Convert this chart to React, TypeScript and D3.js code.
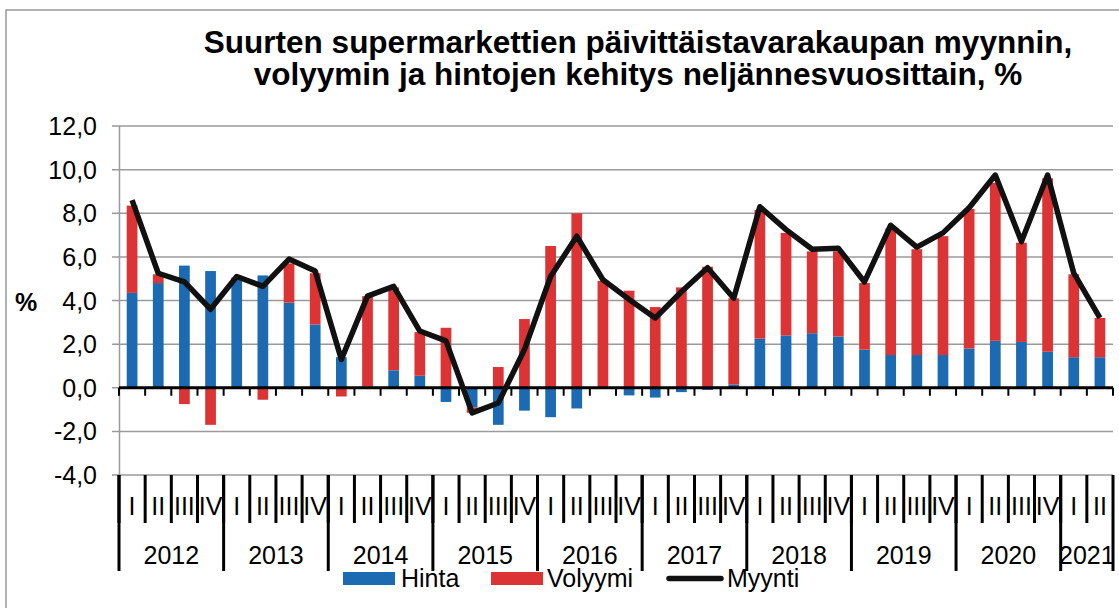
import React from 'react';
import * as d3 from 'd3';

// quarterly change, %
const years = ['2012', '2013', '2014', '2015', '2016', '2017', '2018', '2019', '2020', '2021'];
const quarterLabels = ['I', 'II', 'III', 'IV'];
const hinta = [
  4.35, 4.8, 5.6, 5.35, 4.95, 5.15, 3.9, 2.9, 1.4, 0.05, 0.8, 0.55, -0.65, -0.9, -1.7, -1.05, -1.35, -0.95, 0.0,
  -0.35, -0.45, -0.2, -0.1, 0.15, 2.25, 2.4, 2.5, 2.35, 1.75, 1.5, 1.5, 1.5, 1.8, 2.15, 2.1, 1.65, 1.4, 1.4,
];
const volyymi = [
  4.0, 0.4, -0.75, -1.7, 0.1, -0.55, 1.8, 2.35, -0.4, 4.15, 3.8, 2.0, 2.75, -0.25, 0.95, 3.15, 6.5, 8.0, 4.9,
  4.45, 3.7, 4.6, 5.55, 3.95, 5.9, 4.7, 3.75, 3.9, 3.05, 5.8, 4.85, 5.45, 6.4, 7.25, 4.55, 7.95, 3.8, 1.8,
];
const myynti = [
  8.6, 5.25, 4.85, 3.6, 5.1, 4.65, 5.9, 5.35, 1.3, 4.2, 4.65, 2.6, 2.15, -1.15, -0.7, 1.75, 5.1, 6.95, 4.95,
  4.05, 3.2, 4.4, 5.5, 4.1, 8.3, 7.25, 6.35, 6.4, 4.85, 7.45, 6.45, 7.1, 8.25, 9.75, 6.7, 9.75, 5.25, 3.2,
];
const yTicks = [-4, -2, 0, 2, 4, 6, 8, 10, 12];

const W = 1119;
const H = 608;
const FONT = '"Liberation Sans", Arial, sans-serif';
const BLUE = '#1b6ab2';
const RED = '#dc3435';

const App = () => {
  const categories = years
    .flatMap((y) => quarterLabels.map((q) => `${y} ${q}`))
    .slice(0, hinta.length);

  const pad = 0.59;
  const x = d3.scaleBand().domain(categories).range([119, 1113]).paddingInner(pad).paddingOuter(pad / 2);
  const y = d3.scaleLinear().domain([-4, 12]).range([475, 126]);
  const edge = (c) => x(c) - (x.step() - x.bandwidth()) / 2;
  const xEnd = edge(categories[categories.length - 1]) + x.step();

  const rows = categories.map((c, i) => ({ cat: c, hinta: hinta[i], volyymi: volyymi[i] }));
  const series = d3.stack().keys(['hinta', 'volyymi']).offset(d3.stackOffsetDiverging)(rows);
  const colors = { hinta: BLUE, volyymi: RED };

  const line = d3
    .line()
    .x((d, i) => x(categories[i]) + x.bandwidth() / 2)
    .y((d) => y(d));

  const fmt = (v) => v.toFixed(1).replace('.', ',');

  // year spans
  const yearSpans = years.map((yr) => {
    const cats = categories.filter((c) => c.startsWith(yr));
    const x0 = edge(cats[0]);
    return { yr, x0, x1: x0 + cats.length * x.step() };
  });

  return (
    <svg width={W} height={H} style={{ position: 'absolute', left: 0, top: 0 }} fontFamily={FONT}>
      <rect x={0} y={0} width={W} height={H} fill="#fff" />
      <rect x={6} y={10} width={W + 20} height={H + 20} fill="none" stroke="#999" strokeWidth={1.5} />

      <text x={638} y={53} textAnchor="middle" fontSize={31.5} fontWeight="bold">
        Suurten supermarkettien päivittäistavarakaupan myynnin,
      </text>
      <text x={638} y={85} textAnchor="middle" fontSize={31.5} fontWeight="bold">
        volyymin ja hintojen kehitys neljännesvuosittain, %
      </text>

      {/* gridlines + y axis */}
      {yTicks.map((t) => (
        <g key={t}>
          <line x1={112} x2={xEnd} y1={y(t)} y2={y(t)} stroke="#9a9a9a" strokeWidth={1.5} />
          <text x={97} y={y(t) + 9} textAnchor="end" fontSize={25}>
            {fmt(t)}
          </text>
        </g>
      ))}
      <line x1={119.5} x2={119.5} y1={y(12)} y2={y(-4)} stroke="#9a9a9a" strokeWidth={1.5} />
      <text x={15} y={311} fontSize={25} fontWeight="bold">
        %
      </text>

      {/* bars */}
      {series.map((s) =>
        s.map((d, i) => (
          <rect
            key={s.key + i}
            x={x(categories[i])}
            width={x.bandwidth()}
            y={y(Math.max(d[0], d[1]))}
            height={Math.abs(y(d[0]) - y(d[1]))}
            fill={colors[s.key]}
          />
        ))
      )}

      {/* zero axis with ticks */}
      <line x1={119} x2={xEnd} y1={y(0)} y2={y(0)} stroke="#000" strokeWidth={3} />
      {categories.map((c) => (
        <line key={c} x1={edge(c)} x2={edge(c)} y1={y(0)} y2={y(0) + 8} stroke="#000" strokeWidth={2} />
      ))}
      <line x1={xEnd} x2={xEnd} y1={y(0)} y2={y(0) + 8} stroke="#000" strokeWidth={2} />

      {/* Myynti line */}
      <path d={line(myynti)} fill="none" stroke="#111" strokeWidth={5.5} strokeLinejoin="round" />

      {/* category axis: quarters */}
      {categories.map((c, i) => (
        <g key={'q' + c}>
          <line x1={edge(c)} x2={edge(c)} y1={475} y2={523} stroke="#000" strokeWidth={3} />
          <text x={x(c) + x.bandwidth() / 2} y={515} textAnchor="middle" fontSize={25}>
            {quarterLabels[i % 4]}
          </text>
        </g>
      ))}
      {yearSpans.map((s) => (
        <g key={s.yr}>
          <line x1={s.x0} x2={s.x0} y1={475} y2={571} stroke="#000" strokeWidth={3} />
          <text x={(s.x0 + s.x1) / 2} y={564} textAnchor="middle" fontSize={25}>
            {s.yr}
          </text>
        </g>
      ))}
      <line x1={xEnd} x2={xEnd} y1={475} y2={571} stroke="#000" strokeWidth={3} />

      {/* legend */}
      <rect x={343} y={572} width={52} height={13} fill={BLUE} />
      <text x={401} y={587} fontSize={25}>
        Hinta
      </text>
      <rect x={491} y={572} width={52} height={13} fill={RED} />
      <text x={547} y={587} fontSize={25}>
        Volyymi
      </text>
      <line x1={669} x2={721} y1={578.5} y2={578.5} stroke="#111" strokeWidth={5.5} strokeLinecap="round" />
      <text x={727} y={587} fontSize={25}>
        Myynti
      </text>
    </svg>
  );
};

export default App;
